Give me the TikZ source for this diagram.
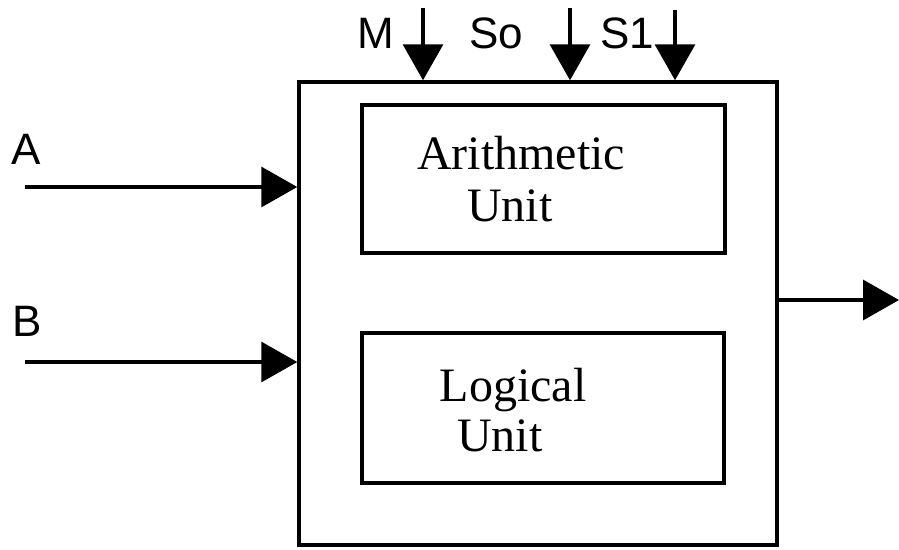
\documentclass[tikz,border=0pt]{standalone}
\usepackage{fontspec}
\setmainfont{Liberation Serif}
\setsansfont{Liberation Sans}
\usetikzlibrary{arrows.meta}

\tikzset{
  box/.style={draw, line width=3.5pt, inner sep=0pt},
  unittext/.style={anchor=base, font=\fontsize{48}{54}\selectfont},
  pinlabel/.style={anchor=base west, inner sep=0pt, font=\sffamily\fontsize{44}{50}\selectfont},
  sig/.style={line width=3.5pt, -{Triangle[length=36pt, width=40pt]}}
}

\begin{document}
\begin{tikzpicture}[x=1pt, y=-1pt]
    \useasboundingbox (0,0) rectangle (899,549);

    % outer block and the two units
    \node[box, minimum width=478pt, minimum height=463pt] (alu) at (538,313.5) {};
    \node[box, minimum width=363pt, minimum height=148pt] (arith) at (543.5,179) {};
    \node[box, minimum width=362pt, minimum height=150pt] (logic) at (543,408) {};

    \node[unittext] (arith1) at (521,169) {Arithmetic};
    \node[unittext] (arith2) at (510,221) {Unit};
    \node[unittext] (logic1) at (513,401) {Logical};
    \node[unittext] (logic2) at (500,451) {Unit};

    % select lines
    \node[pinlabel] (m) at (357,48) {M};
    \node[pinlabel] (so) at (469,48) {So};
    \node[pinlabel] (sone) at (600,48) {S1};
    \coordinate (mtop) at (423,8);
    \coordinate (sotop) at (570,8);
    \coordinate (sonetop) at (675,10);
    \draw[sig] (mtop) -- (alu.north -| mtop);
    \draw[sig] (sotop) -- (alu.north -| sotop);
    \draw[sig] (sonetop) -- (alu.north -| sonetop);

    % inputs
    \node[pinlabel] (a) at (11,164) {A};
    \node[pinlabel] (b) at (12,336) {B};
    \coordinate (ain) at (25,187);
    \coordinate (bin) at (25,362);
    \draw[sig] (ain) -- (alu.west |- ain);
    \draw[sig] (bin) -- (alu.west |- bin);

    % output
    \coordinate (fout) at (899,300);
    \draw[sig] (alu.east |- fout) -- (fout);
\end{tikzpicture}
\end{document}
